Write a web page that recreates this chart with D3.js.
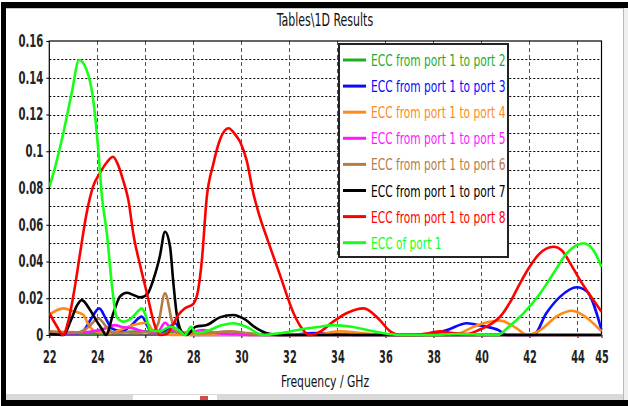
<!DOCTYPE html>
<html lang="en">
<head>
<meta charset="utf-8">
<title>Tables\1D Results</title>
<script src="https://cdn.jsdelivr.net/npm/d3@7"></script>
<style>
  body { margin:0; background:#fff; }
  text { font-family:"DejaVu Sans Condensed","DejaVu Sans",sans-serif; }
</style>
</head>
<body>
<div id="chart"></div>
<script>
// ---- data (frequency GHz, ECC) ----
var xTicks = [22,24,26,28,30,32,34,36,38,40,42,44,45];
var yTicks = [0,0.02,0.04,0.06,0.08,0.1,0.12,0.14,0.16];
var yTickLabels = ["0","0.02","0.04","0.06","0.08","0.1","0.12","0.14","0.16"];
var legendNames = ["ECC from port 1 to port 2","ECC from port 1 to port 3","ECC from port 1 to port 4",
  "ECC from port 1 to port 5","ECC from port 1 to port 6","ECC from port 1 to port 7",
  "ECC from port 1 to port 8","ECC of port 1"];

var port2 = [[22,0.001],[24,0.001],[26,0.002],[28,0.001],[30,0.0005],[32,0],[38,0],[45,0]];
var port3 = [[22,0.001],[23.2,0.001],[23.4,0.002],[23.75,0.009],[24.08,0.0145],[24.35,0.009],[24.6,0.0036],
  [25.0,0.002],[25.4,0.005],[25.85,0.01],[26.2,0.0027],[26.6,0.0015],[26.9,0.003],[27.24,0.0064],[27.55,0.001],
  [28,0],[32,0],[33,0.001],[34,0.0005],[35,0],[37.5,0],[38.56,0.0027],[39.39,0.0064],[40.0,0.005],[40.7,0.0027],
  [41.06,0],[42.17,0],[42.7,0.0118],[43.28,0.0209],[43.97,0.026],[44.4,0.0236],[45,0.0027]];
var port4 = [[22,0.011],[22.58,0.0145],[23.0,0.013],[23.42,0.011],[23.6,0.0064],[23.9,0.002],[24.5,0.001],
  [25.0,0.003],[25.5,0.0054],[26.06,0.0067],[26.33,0.002],[26.7,0.0005],[27.5,0],[33,0],[34.1,0.002],[35,0.001],
  [36,0],[38.5,0],[39.1,0.001],[39.67,0.0045],[40.78,0.0078],[41.47,0.0036],[41.9,0],[42.45,0.0027],
  [43.15,0.0103],[43.77,0.0132],[44.1,0.0118],[45,0.002]];
var port5 = [[22,0.001],[23,0.001],[23.8,0.002],[24.2,0.003],[24.74,0.0054],[25.0,0.0045],[25.5,0.0036],
  [25.9,0.002],[26.3,0.001],[26.55,0.002],[26.82,0.0067],[27.17,0.002],[27.6,0.001],[28.4,0.0027],[29,0.001],
  [29.6,0.0005],[30.5,0],[45,0]];
var port6 = [[22,0.002],[23.2,0.0015],[23.6,0.004],[24.05,0.009],[24.4,0.004],[24.7,0.001],[25.2,0.0015],
  [25.6,0.001],[26.0,0.0015],[26.3,0.002],[26.54,0.0064],[26.82,0.0227],[27.1,0.008],[27.24,0.002],[27.6,0.001],
  [28.5,0.001],[29.5,0.002],[30.3,0.001],[31,0],[45,0]];
var port7 = [[22,0.0005],[22.3,0.0003],[22.58,0],[22.9,0.008],[23.15,0.016],[23.35,0.019],[23.7,0.0136],
  [24.0,0.007],[24.18,0.0035],[24.36,0],[24.67,0.012],[24.95,0.021],[25.23,0.023],[25.5,0.0218],[25.78,0.0205],
  [26.06,0.0218],[26.33,0.030],[26.6,0.0426],[26.82,0.0562],[27.03,0.048],[27.17,0.028],[27.3,0.012],[27.5,0.002],
  [27.7,0],[28.1,0.0045],[28.56,0.0054],[29.1,0.0096],[29.67,0.0109],[30.08,0.009],[30.64,0.0036],[31.06,0.001],
  [31.6,0],[36,0],[40,0],[45,0]];
var port8 = [[22,0.012],[22.3,0.005],[22.57,0],[22.8,0.008],[23.05,0.025],[23.3,0.046],[23.55,0.066],
  [23.83,0.081],[24.1,0.088],[24.4,0.094],[24.65,0.097],[24.85,0.093],[25.08,0.084],[25.3,0.073],[25.5,0.055],
  [25.8,0.037],[26.06,0.023],[26.4,0.005],[26.6,0],[26.9,0.0005],[27.1,0.0045],[27.38,0.011],[27.65,0.0145],
  [28.0,0.017],[28.2,0.0245],[28.35,0.04],[28.56,0.075],[28.83,0.093],[29.1,0.106],[29.46,0.1125],[29.75,0.109],
  [29.95,0.105],[30.22,0.095],[30.5,0.077],[30.75,0.065],[31.06,0.053],[31.6,0.033],[32.17,0.012],[32.5,0.004],
  [32.85,0],[33.3,0.002],[33.8,0.007],[34.4,0.012],[35.1,0.0145],[35.7,0.009],[36.2,0.002],[36.6,0],[37.2,0],
  [37.8,0.001],[38.3,0.002],[38.8,0.001],[39.4,0.0005],[39.94,0.003],[40.4,0.006],[40.78,0.01],[41.2,0.018],
  [41.6,0.028],[42.0,0.037],[42.4,0.044],[43.0,0.048],[43.35,0.046],[43.7,0.039],[44.1,0.030],[44.5,0.022],[45,0.0127]];
var port1 = [[22,0.0807],[22.17,0.088],[22.58,0.1097],[22.93,0.1315],[23.24,0.1497],[23.56,0.144],[23.83,0.128],
  [24.04,0.1007],[24.18,0.077],[24.4,0.055],[24.6,0.028],[24.8,0.01],[25.08,0.0073],[25.4,0.009],[25.7,0.013],
  [25.85,0.0145],[26.0,0.011],[26.2,0.0027],[26.6,0.002],[27.03,0.0045],[27.3,0.0035],[27.5,0.0015],[27.65,0],
  [27.9,0.0045],[28.1,0.001],[28.56,0.002],[29.1,0.005],[29.67,0.0064],[30.2,0.0045],[30.9,0],[31.6,0.001],
  [32.45,0.003],[33.28,0.0045],[33.83,0.0054],[34.6,0.0045],[35.5,0.002],[36.6,0],[38,0],[39,0.0005],[40,0.0002],
  [40.7,0],[41.06,0.0036],[41.75,0.0118],[42.45,0.0227],[43.0,0.0336],[43.56,0.0445],[44.25,0.0499],
  [44.67,0.046],[45,0.037]];

var seriesData = [port2, port3, port4, port5, port6, port7, port8, port1];
var colors = ["#1fae1f","#0a0aff","#ff8a1a","#ff18ff","#b77b45","#000000","#ff0000","#16ff16"];

var W = 628, H = 406;
var svg = d3.select("#chart").append("svg").attr("width", W).attr("height", H);

// narrow text: the original uses a tall, condensed face
function label(g, px, py, str, size, sx, anchor) {
  return g.append("text")
    .attr("transform", "translate(" + px + "," + py + ") scale(" + sx + ",1)")
    .attr("text-anchor", anchor || "start")
    .attr("font-size", size)
    .text(str);
}

// ---- window frame ----
svg.append("rect").attr("x",0).attr("y",0).attr("width",W).attr("height",H).attr("fill","#fff");
svg.append("rect").attr("x",1).attr("y",2).attr("width",W-1).attr("height",6).attr("fill","#000");
svg.append("rect").attr("x",1).attr("y",2).attr("width",5).attr("height",H-2).attr("fill","#000");
svg.append("rect").attr("x",1).attr("y",400).attr("width",W-1).attr("height",6).attr("fill","#000");
svg.append("rect").attr("x",623).attr("y",8).attr("width",5).attr("height",392).attr("fill","#efefef");
svg.append("line").attr("x1",623.5).attr("x2",623.5).attr("y1",8).attr("y2",400).attr("stroke","#b8b8b8");
svg.append("line").attr("x1",6).attr("x2",623).attr("y1",8.5).attr("y2",8.5).attr("stroke","#c8c8c8");
svg.append("rect").attr("x",6).attr("y",394).attr("width",617).attr("height",6).attr("fill","#d9d9d9");
svg.append("rect").attr("x",133).attr("y",395).attr("width",84).attr("height",5).attr("fill","#fff");
svg.append("rect").attr("x",200).attr("y",396).attr("width",8).attr("height",4).attr("fill","#d84a4a");

// ---- scales ----
var x = d3.scaleLinear().domain([22,45]).range([49.3,601.5]);
var y = d3.scaleLinear().domain([0,0.16]).range([335,41]);

// title
label(svg, 325, 26, "Tables\\1D Results", 17, 0.72, "middle").attr("fill","#111");

// ---- grid ----
var grid = svg.append("g");
grid.selectAll("line.h").data(d3.range(1,16).map(function(i){ return i/100; }))
  .enter().append("line")
  .attr("x1",x(22)).attr("x2",x(45)).attr("y1",function(d){ return Math.round(y(d))+0.5; })
  .attr("y2",function(d){ return Math.round(y(d))+0.5; })
  .attr("stroke","#000").attr("stroke-width",1).attr("stroke-dasharray","2,2");
grid.selectAll("line.v").data(xTicks.slice(1,-1))
  .enter().append("line")
  .attr("y1",y(0.16)).attr("y2",y(0))
  .attr("x1",function(d){ return Math.round(x(d))+0.5; }).attr("x2",function(d){ return Math.round(x(d))+0.5; })
  .attr("stroke","#555").attr("stroke-width",1).attr("stroke-dasharray","4,3");

// ---- axes ----
var xAxis = d3.axisBottom(x).tickValues(xTicks).tickSize(3).tickFormat(d3.format("d"));
var gx = svg.append("g").attr("transform","translate(0,335)").call(xAxis);
gx.select(".domain").remove();
gx.selectAll("text").attr("font-size",17).attr("font-weight","bold").attr("fill","#222")
  .attr("dy",0).attr("y",28).attr("transform","scale(0.64,1)");

var yAxis = d3.axisLeft(y).tickValues(yTicks).tickSize(3)
  .tickFormat(function(d,i){ return yTickLabels[i]; });
var gy = svg.append("g").attr("transform","translate(49.3,0)").call(yAxis);
gy.select(".domain").remove();
gy.selectAll("text").attr("font-size",17).attr("font-weight","bold").attr("fill","#222")
  .attr("x",-6/0.66).attr("transform","scale(0.66,1)");

svg.append("rect").attr("x",x(22)).attr("y",y(0.16)).attr("width",x(45)-x(22)).attr("height",y(0)-y(0.16))
  .attr("fill","none").attr("stroke","#000").attr("stroke-width",1.2);

label(svg, 325, 387, "Frequency / GHz", 16, 0.75, "middle").attr("fill","#111");

// ---- curves ----
svg.append("clipPath").attr("id","plotclip").append("rect")
  .attr("x",x(22)).attr("y",y(0.16)-2).attr("width",x(45)-x(22)+1).attr("height",y(0)-y(0.16)+4);

var line = d3.line().x(function(d){ return x(d[0]); }).y(function(d){ return y(d[1]); })
  .curve(d3.curveMonotoneX);

svg.append("g").attr("clip-path","url(#plotclip)")
  .selectAll("path").data(seriesData).enter().append("path")
  .attr("d", line).attr("fill","none")
  .attr("stroke",function(d,i){ return colors[i]; })
  .attr("stroke-width",2.6).attr("stroke-linejoin","round");

// ---- legend ----
var lg = svg.append("g");
lg.append("rect").attr("x",339).attr("y",44).attr("width",169).attr("height",213)
  .attr("fill","#fff").attr("stroke","#222").attr("stroke-width",2);
legendNames.forEach(function(name, i) {
  var ry = 60 + i*26.1;
  lg.append("line").attr("x1",343).attr("x2",366).attr("y1",ry).attr("y2",ry)
    .attr("stroke",colors[i]).attr("stroke-width",3);
  label(lg, 371, ry + 6, name, 16, 0.74).attr("fill",colors[i]);
});
</script>
</body>
</html>
